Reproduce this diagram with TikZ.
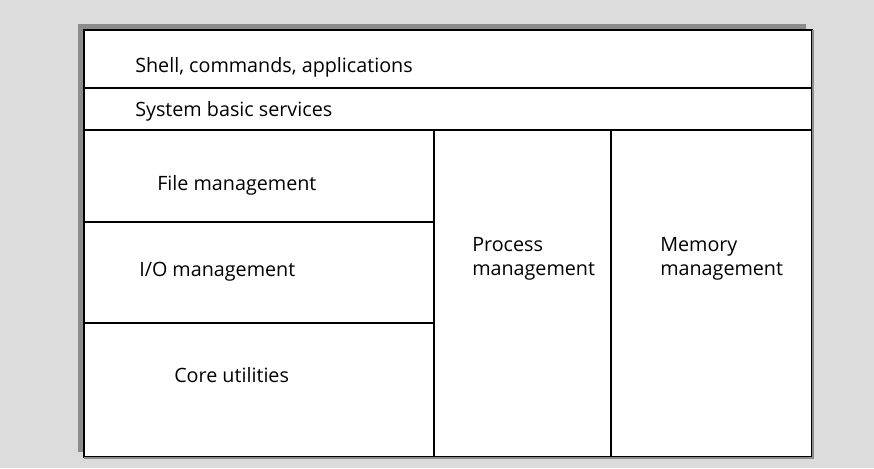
\documentclass[tikz,border=0pt]{standalone}
\usepackage{fontspec}
\setmainfont{Open Sans}
\usepackage{xcolor}
\definecolor{bgray}{HTML}{DCDCDC}
\definecolor{sgray}{HTML}{8C8C8C}
\tikzset{
  lbl/.style={font=\fontsize{14.8}{18}\selectfont, inner sep=0pt, anchor=west, align=left},
  part/.style={black, line width=0.8pt}
}
\begin{document}
\begin{tikzpicture}[x=0.75pt,y=-0.75pt]
  \pgfmathsetmacro{\xl}{84}
  \pgfmathsetmacro{\xr}{812}
  \pgfmathsetmacro{\yt}{30}
  \pgfmathsetmacro{\yb}{457}
  \fill[bgray] (0,0) rectangle (874,468);
  \useasboundingbox (0,0) rectangle (874,468);
  % shadow and box
  \fill[sgray] (\xl-6,\yt-6) rectangle (\xr-6,\yb-5);
  \fill[white] (\xl,\yt) rectangle (\xr,\yb);
  \draw[part] (\xl,\yt) rectangle (\xr,\yb);
  \draw[sgray,line width=1.5pt] (\xl,\yb+0.5) -- (\xr+0.5,\yb+0.5) -- (\xr+0.5,\yt);

  \foreach \y in {88,130}{
    \draw[part] (\xl,\y) -- (\xr,\y);
  }
  \foreach \x in {434,611}{
    \draw[part] (\x,130) -- (\x,\yb);
  }
  \foreach \y in {222,323}{
    \draw[part] (\xl,\y) -- (434,\y);
  }

  \node[lbl] (shell) at (135,67) {Shell, commands, applications};
  \node[lbl] (basic) at (135,111) {System basic services};
  \node[lbl] (file)  at (157,185) {File management};
  \node[lbl] (io)    at (139,272) {I/O management};
  \node[lbl] (core)  at (174,375) {Core utilities};
  \node[lbl] (proc)  at (472,259) {Process\\management};
  \node[lbl] (mem)   at (660,259) {Memory\\management};
\end{tikzpicture}
\end{document}
